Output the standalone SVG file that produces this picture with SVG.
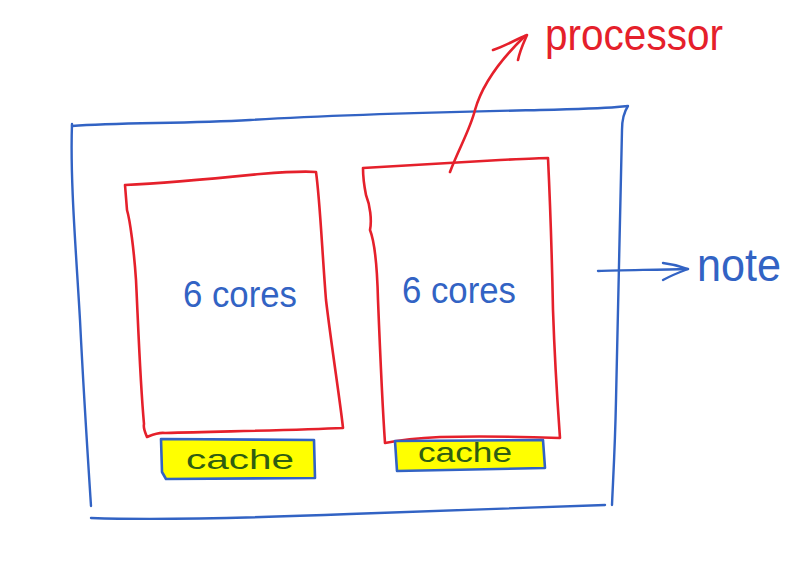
<svg xmlns="http://www.w3.org/2000/svg" width="797" height="582" viewBox="0 0 797 582">
<style>
.blue{fill:none;stroke:#3263C4;stroke-width:2.4;stroke-linecap:round;stroke-linejoin:round}
.red{fill:none;stroke:#E5202B;stroke-width:2.6;stroke-linecap:round;stroke-linejoin:round}
.cachebox{fill:#FFFF00;stroke:#3263C4;stroke-width:2.6;stroke-linejoin:round}
.hand{font-family:"Liberation Sans","DejaVu Sans",sans-serif}
.bluetxt{fill:#3263C4}
.redtxt{fill:#E5202B}
.greentxt{fill:#2F5D12}
</style>
<rect width="797" height="582" fill="#FFFFFF"/>
<g id="node-outer">
  <path class="blue" d="M72,126 C120,122 180,124 250,120 C350,114 450,112 540,110 C580,109 605,108 617,107 L628,106 C624,112 622,118 622,130 C620,200 618,300 616,400 C615,450 613,480 612,505"/>
  <path class="blue" d="M72,124 C70,180 76,250 80,320 C84,400 88,460 91,506"/>
  <path class="blue" d="M91,518 C150,520 250,518 350,514 C450,510 540,507 605,505"/>
</g>
<g id="node-processor-left">
  <path class="red" d="M125,185 C170,183 220,178 260,174 C285,172 305,171 316,172 C320,200 322,250 326,300 C332,350 340,400 343,428 C300,430 240,431 165,433 C158,432 152,435 147,437 C145,432 143,428 144,424 C140,380 138,320 136,280 C134,250 130,220 127,210 Z"/>
</g>
<g id="node-processor-right">
  <path class="red" d="M363,168 C400,166 450,163 500,160 C520,159 540,158 548,158 C550,200 552,260 553,310 C555,370 558,410 560,438 C530,437 480,436 440,437 C420,438 400,440 385,443 C382,400 380,350 378,300 C377,260 374,240 370,230 C372,220 370,205 366,195 C364,185 363,175 363,168 Z"/>
</g>
<g id="node-cache-left">
  <path class="cachebox" d="M161,439 L314,440 L315,478 L166,479 L162,472 Z"/>
  <text class="hand greentxt" x="240" y="469" font-size="28" text-anchor="middle" textLength="108" lengthAdjust="spacingAndGlyphs">cache</text>
</g>
<g id="node-cache-right">
  <path class="cachebox" d="M395,441 L543,440 L545,468 L397,471 Z"/>
  <text class="hand greentxt" x="465" y="462" font-size="27" text-anchor="middle" textLength="94" lengthAdjust="spacingAndGlyphs">cache</text>
</g>
<g id="labels">
  <text class="hand bluetxt" x="240" y="307" font-size="36" text-anchor="middle" textLength="114" lengthAdjust="spacingAndGlyphs">6 cores</text>
  <text class="hand bluetxt" x="459" y="303" font-size="36" text-anchor="middle" textLength="114" lengthAdjust="spacingAndGlyphs">6 cores</text>
  <text class="hand redtxt" x="545" y="50" font-size="44" textLength="178" lengthAdjust="spacingAndGlyphs">processor</text>
  <text class="hand bluetxt" x="697" y="281" font-size="46" textLength="84" lengthAdjust="spacingAndGlyphs">note</text>
</g>
<g id="connectors">
  <path class="red" d="M450,172 C458,150 470,130 475,110 C482,85 500,60 525,36"/>
  <path class="red" d="M493,50 C505,46 515,40 527,35 C524,42 520,50 518,60"/>
  <path class="blue" d="M598,271 C620,270 650,270 688,269"/>
  <path class="blue" d="M663,263 C672,264 680,266 688,269 C680,272 672,275 663,280"/>
</g>
</svg>
